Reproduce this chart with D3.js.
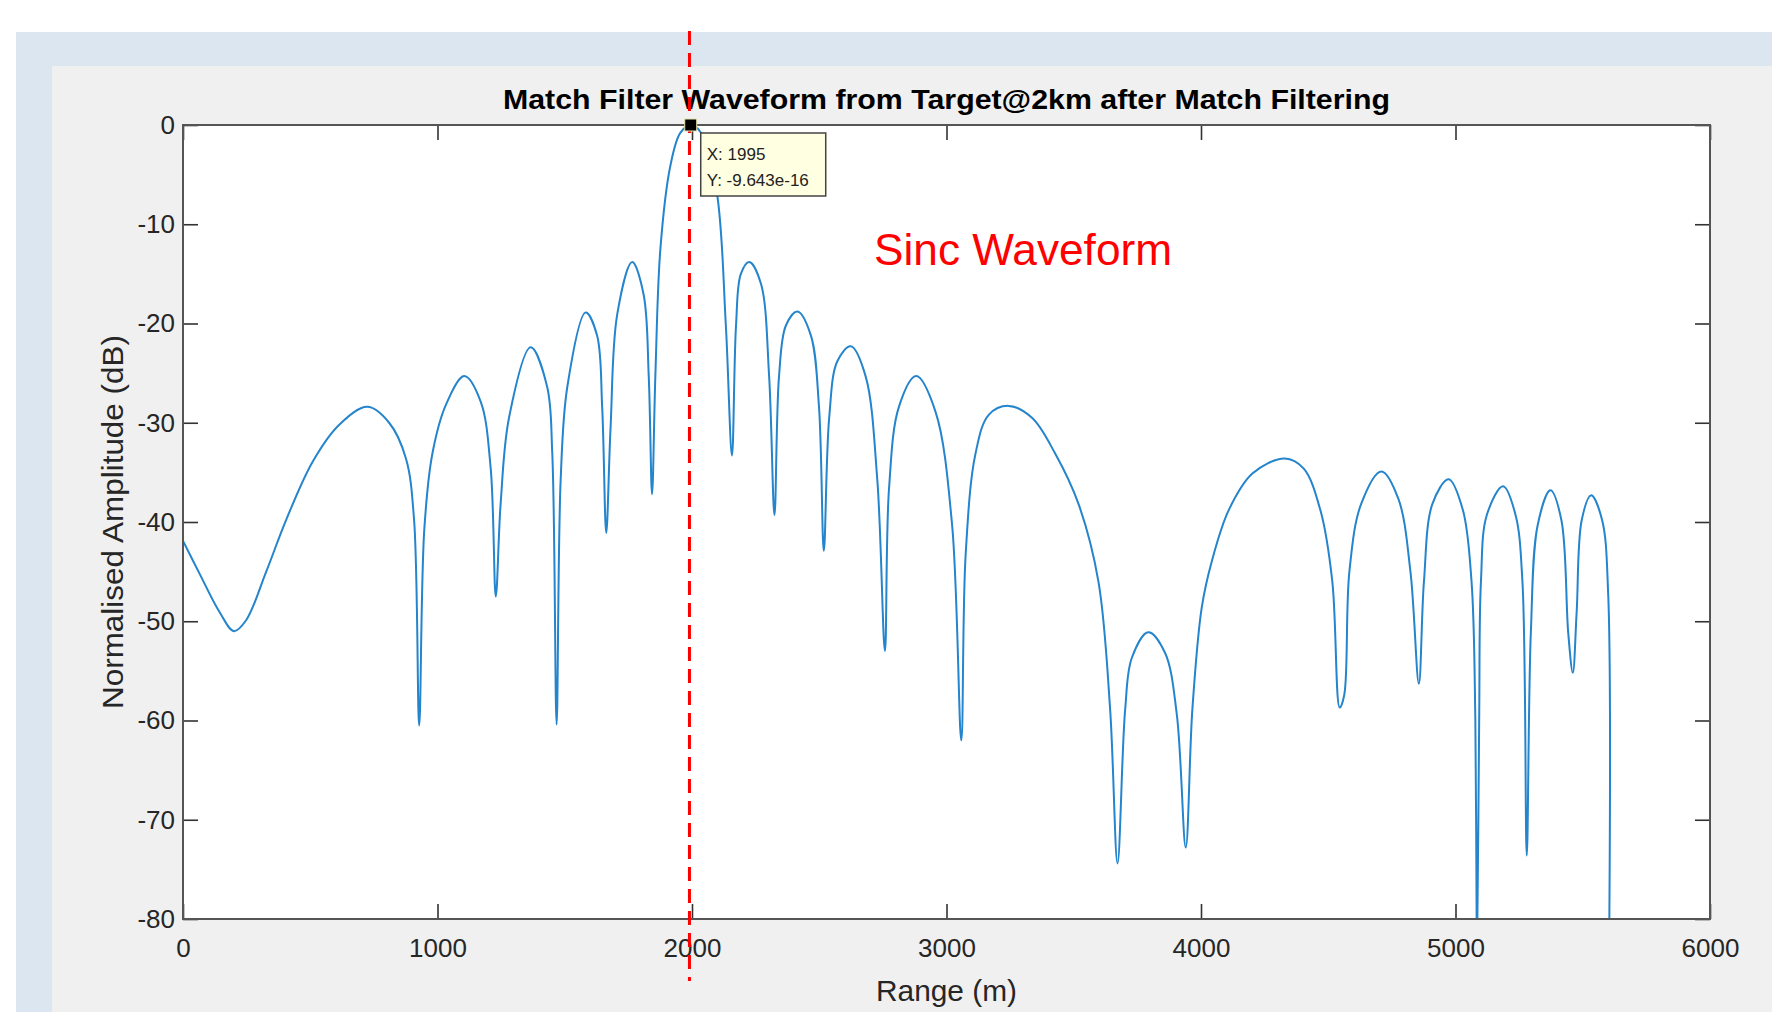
<!DOCTYPE html>
<html>
<head>
<meta charset="utf-8">
<script src="https://cdn.jsdelivr.net/npm/d3@7"></script>
<style>
  body { margin: 0; background: #fff; }
  svg { display: block; font-family: "Liberation Sans", Arial, sans-serif; }
</style>
</head>
<body>
<svg id="chart" width="1772" height="1012"></svg>
<script>
// Matched filter output: range (m) and level (dB)
var rangeM = [0, 65, 144, 200, 248, 327, 405, 510, 614, 725, 810, 876, 908, 928, 948, 980, 1033,
  1105, 1170, 1209, 1229, 1248, 1281, 1366, 1431, 1451, 1468, 1484, 1510, 1582, 1627, 1647, 1663,
  1680, 1706, 1765, 1810, 1830, 1843, 1856, 1876, 1915, 1954, 1995, 2036, 2097, 2133, 2157, 2173,
  2192, 2225, 2271, 2303, 2324, 2342, 2369, 2414, 2467, 2499, 2518, 2539, 2571, 2624, 2682, 2728,
  2758, 2774, 2813, 2881, 2957, 3022, 3058, 3075, 3114, 3166, 3244, 3336, 3427, 3519, 3597, 3643,
  3672, 3702, 3728, 3793, 3859, 3905, 3940, 3966, 4003, 4043, 4109, 4203, 4329, 4403, 4469, 4516,
  4545, 4563, 4583, 4629, 4709, 4776, 4823, 4856, 4876, 4909, 4973, 5029, 5063, 5078, 5084, 5093,
  5100, 5123, 5187, 5236, 5263, 5280, 5296, 5323, 5373, 5416, 5443, 5461, 5476, 5496, 5533, 5576,
  5600, 5603];
var ampDb = [-41.9, -45.2, -49.1, -51.0, -49.9, -45.0, -39.8, -33.9, -30.2, -28.4, -30.0, -33.6, -39.8, -60.5, -40.8, -33.1, -28.2,
  -25.3, -27.9, -34.6, -47.5, -38.2, -29.5, -22.4, -26.4, -33.1, -60.4, -35.7, -26.4, -18.9, -21.2, -28.4, -41.1,
  -30.5, -19.1, -13.8, -17.1, -25.3, -37.2, -25.3, -12.4, -4.1, -0.8, 0, -0.8, -6.7, -20.2, -33.3, -20.2,
  -15.0, -13.8, -16.0, -25.3, -39.3, -25.3, -20.2, -18.8, -21.2, -28.4, -42.9, -29.5, -23.8, -22.3, -25.3, -35.7,
  -53.0, -36.7, -28.4, -25.3, -28.9, -40.3, -62.0, -43.4, -33.1, -29.2, -28.3, -29.5, -33.1, -38.2, -46.0, -58.9,
  -74.4, -58.9, -53.7, -51.1, -53.2, -59.4, -72.8, -58.9, -48.6, -43.9, -38.8, -35.1, -33.6, -34.6, -38.8, -46.0,
  -58.7, -57.4, -45.0, -38.2, -34.9, -37.7, -45.0, -56.3, -46.0, -38.2, -35.7, -38.8, -46.0, -60.0, -85.0, -60.0,
  -46.0, -39.3, -36.4, -39.3, -46.0, -73.6, -51.2, -40.3, -36.8, -39.8, -51.2, -55.2, -49.1, -39.8, -37.3, -39.8,
  -47.3, -85.0];

var xTicks = [0, 1000, 2000, 3000, 4000, 5000, 6000];
var yTicks = [0, -10, -20, -30, -40, -50, -60, -70, -80];

// data tip and the target marker
var tipRange = 1995;
var tipLines = ["X: 1995", "Y: -9.643e-16"];
var targetRange = 1990;

var W = 1772, H = 1012;
var plot = {left: 183, right: 1710, top: 125, bottom: 919};

var svg = d3.select("#chart");

// slide background panels
svg.append("rect").attr("x", 16).attr("y", 32).attr("width", W - 16).attr("height", H - 32).attr("fill", "#dce6f1");
svg.append("rect").attr("x", 52).attr("y", 66).attr("width", W - 52).attr("height", H - 66).attr("fill", "#f0f0f0");
svg.append("rect").attr("x", plot.left).attr("y", plot.top)
  .attr("width", plot.right - plot.left).attr("height", plot.bottom - plot.top).attr("fill", "#fff");

var x = d3.scaleLinear().domain([0, 6000]).range([plot.left, plot.right]);
var y = d3.scaleLinear().domain([-80, 0]).range([plot.bottom, plot.top]);

svg.append("clipPath").attr("id", "clip").append("rect")
  .attr("x", plot.left).attr("y", plot.top)
  .attr("width", plot.right - plot.left).attr("height", plot.bottom - plot.top);

var pts = rangeM.map(function(r, i) { return [r, ampDb[i]]; });
var line = d3.line().x(function(d) { return x(d[0]); }).y(function(d) { return y(d[1]); })
  .curve(d3.curveCatmullRom.alpha(0.5));

svg.append("path").datum(pts)
  .attr("clip-path", "url(#clip)")
  .attr("d", line)
  .attr("fill", "none")
  .attr("stroke", "#2484cc")
  .attr("stroke-width", 2);

// axes, MATLAB style: ticks pointing in, box all round
var tickCol = "#333";
function styleAxis(g) {
  g.select(".domain").remove();
  g.selectAll(".tick line").attr("stroke", tickCol).attr("stroke-width", 1.6);
  g.selectAll(".tick text").attr("fill", "#262626").attr("font-size", 26);
}
var plain = function(d) { return String(d); };
svg.append("g").attr("transform", "translate(0," + plot.bottom + ")")
  .call(d3.axisBottom(x).tickValues(xTicks).tickFormat(plain).tickSize(-15).tickPadding(20))
  .call(styleAxis);
svg.append("g").attr("transform", "translate(0," + plot.top + ")")
  .call(d3.axisTop(x).tickValues(xTicks).tickFormat("").tickSize(-15))
  .call(styleAxis);
svg.append("g").attr("transform", "translate(" + plot.left + ",0)")
  .call(d3.axisLeft(y).tickValues(yTicks).tickFormat(plain).tickSize(-15).tickPadding(8))
  .call(styleAxis);
svg.append("g").attr("transform", "translate(" + plot.right + ",0)")
  .call(d3.axisRight(y).tickValues(yTicks).tickFormat("").tickSize(-15))
  .call(styleAxis);

svg.append("rect").attr("x", plot.left).attr("y", plot.top)
  .attr("width", plot.right - plot.left).attr("height", plot.bottom - plot.top)
  .attr("fill", "none").attr("stroke", "#555").attr("stroke-width", 2);

// titles
svg.append("text").attr("x", (plot.left + plot.right) / 2).attr("y", 109)
  .attr("text-anchor", "middle").attr("font-size", 27).attr("font-weight", "bold")
  .attr("textLength", 887).attr("lengthAdjust", "spacingAndGlyphs")
  .text("Match Filter Waveform from Target@2km after Match Filtering");
svg.append("text").attr("x", (plot.left + plot.right) / 2).attr("y", 1001)
  .attr("text-anchor", "middle").attr("font-size", 29).attr("fill", "#262626")
  .attr("textLength", 141).attr("lengthAdjust", "spacingAndGlyphs")
  .text("Range (m)");
svg.append("text").attr("transform", "translate(123,522) rotate(-90)")
  .attr("text-anchor", "middle").attr("font-size", 29).attr("fill", "#262626")
  .attr("textLength", 374).attr("lengthAdjust", "spacingAndGlyphs")
  .text("Normalised Amplitude (dB)");

svg.append("text").attr("x", 874).attr("y", 265)
  .attr("font-size", 45).attr("fill", "#ff0000")
  .attr("textLength", 298).attr("lengthAdjust", "spacingAndGlyphs")
  .text("Sinc Waveform");

// red dashed marker at the target range
svg.append("line")
  .attr("x1", x(targetRange)).attr("x2", x(targetRange))
  .attr("y1", 31).attr("y2", 981)
  .attr("stroke", "#ff0000").attr("stroke-width", 3).attr("stroke-dasharray", "14,8");

// data tip
var tx = x(tipRange), ty = y(0);
svg.append("rect").attr("x", tx - 6).attr("y", ty - 6).attr("width", 12).attr("height", 12)
  .attr("fill", "#000").attr("stroke", "#e8e4b0").attr("stroke-width", 1);
var tip = svg.append("g").attr("transform", "translate(" + (tx + 10) + "," + (ty + 8) + ")");
tip.append("rect").attr("width", 125).attr("height", 63)
  .attr("fill", "#ffffe1").attr("stroke", "#444").attr("stroke-width", 1.5);
tip.selectAll("text").data(tipLines).enter().append("text")
  .attr("x", 6).attr("y", function(d, i) { return 27 + i * 26; })
  .attr("font-size", 17).attr("fill", "#222")
  .text(function(d) { return d; });
</script>
</body>
</html>
